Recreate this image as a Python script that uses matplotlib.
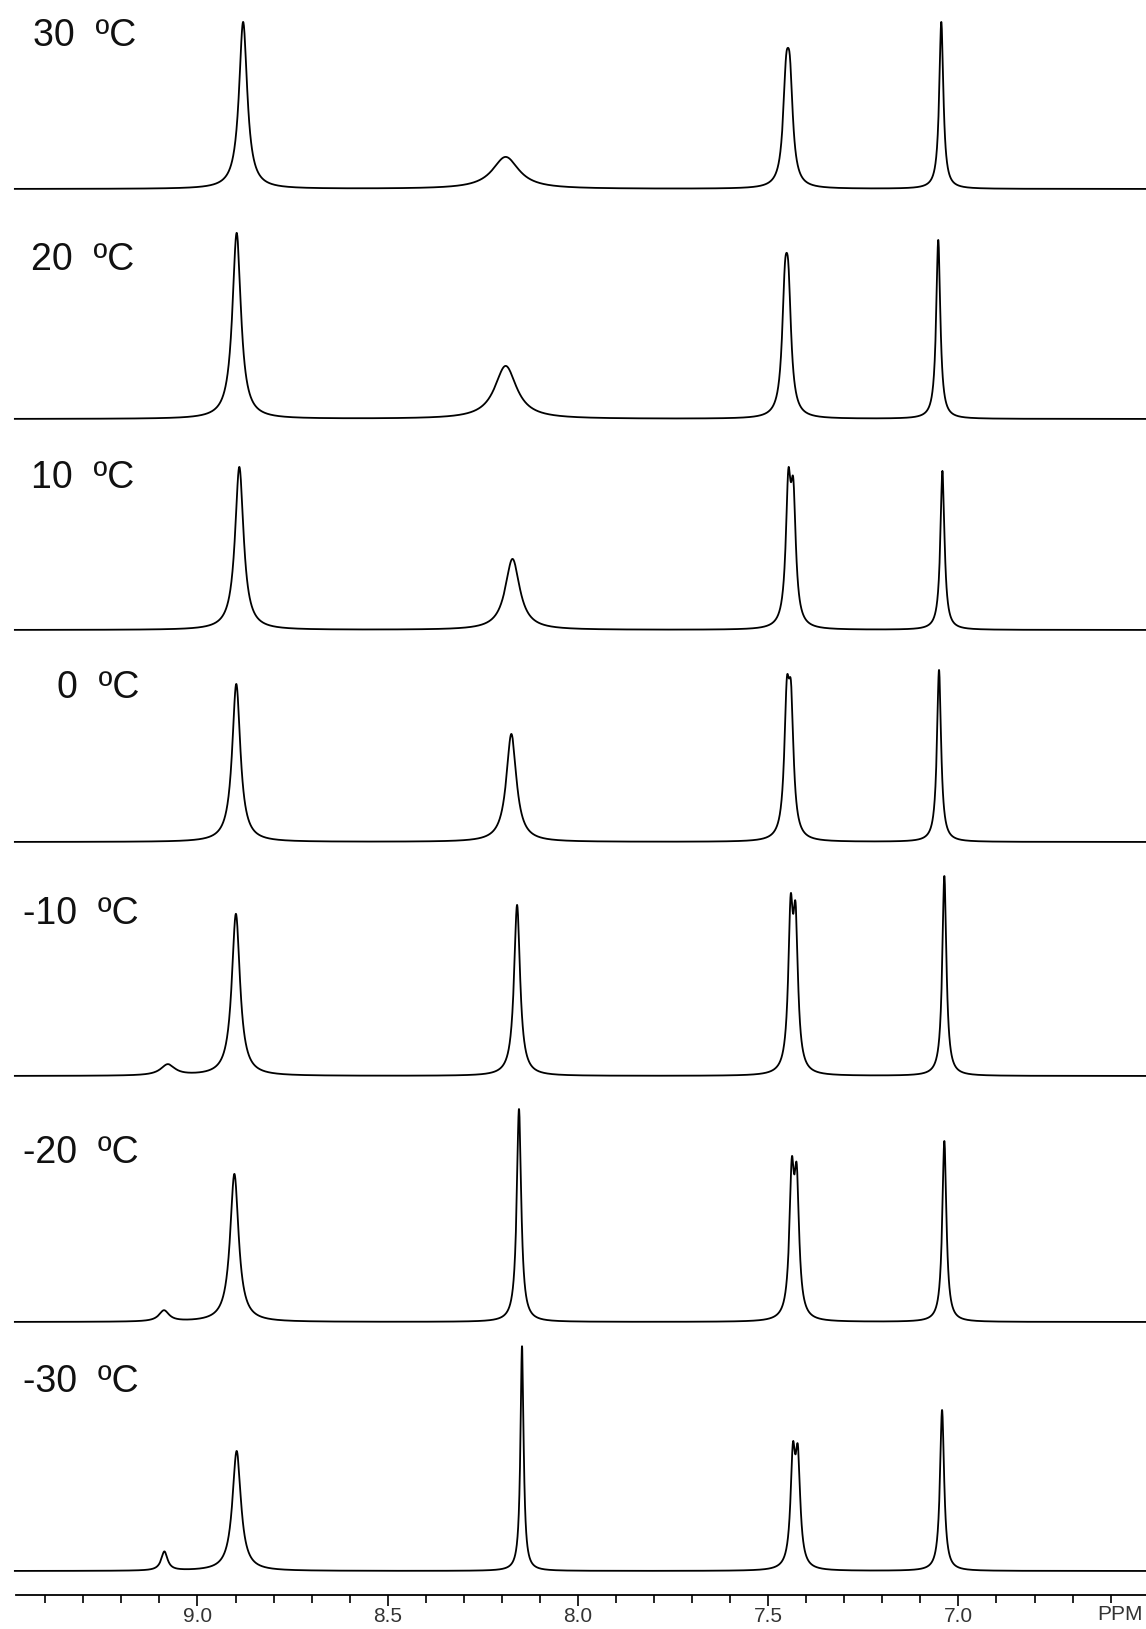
import numpy as np
import matplotlib
matplotlib.use("Agg")
import matplotlib.pyplot as plt
from matplotlib.ticker import MultipleLocator

plt.rcParams['font.family'] = ['Liberation Sans', 'DejaVu Sans']

# ---------------- data ----------------
temp_labels = ["30  \u00baC", "20  \u00baC", "10  \u00baC", "0  \u00baC",
               "-10  \u00baC", "-20  \u00baC", "-30  \u00baC"]

# small signal near 9.08 ppm (only at low T)
minor_shift = [9.08, 9.08, 9.08, 9.08, 9.078, 9.088, 9.087]
minor_height = [0, 0, 0, 0, 11, 11, 19]
minor_fwhm = [0.05, 0.05, 0.05, 0.05, 0.045, 0.032, 0.02]

# signal near 8.9 ppm
b_shift = [8.880, 8.897, 8.890, 8.898, 8.899, 8.903, 8.897]
b_height = [167, 186, 163, 158, 162, 148, 120]
b_fwhm = [0.026, 0.027, 0.027, 0.026, 0.026, 0.027, 0.027]

# exchange-broadened signal near 8.15-8.19 ppm
c_shift = [8.190, 8.190, 8.172, 8.175, 8.160, 8.155, 8.147]
c_height = [32, 53, 71, 108, 171, 213, 225]
c_fwhm = [0.085, 0.070, 0.046, 0.032, 0.019, 0.014, 0.010]

# doublet near 7.44 ppm (two lines); d_height = observed top of the pair
d1_shift = [7.453, 7.456, 7.447, 7.451, 7.441, 7.438, 7.435]
d2_shift = [7.443, 7.447, 7.434, 7.440, 7.428, 7.425, 7.422]
d_height = [141, 166, 163, 168, 183, 166, 130]
d_ratio = [1.0, 1.0, 0.90, 0.95, 0.93, 0.94, 0.97]
d_fwhm = [0.019, 0.018, 0.016, 0.016, 0.015, 0.015, 0.015]

# sharp signal near 7.04 ppm
e_shift = [7.045, 7.053, 7.042, 7.051, 7.037, 7.037, 7.043]
e_height = [167, 179, 159, 172, 200, 181, 161]
e_fwhm = [0.013, 0.013, 0.013, 0.013, 0.013, 0.013, 0.013]

# ---------------- layout ----------------
W, H = 1146, 1629
axis_y = 1595                       # pixel row of the ppm axis
baselines = [189, 419, 630, 842, 1076, 1322, 1571]
label_x = [33, 31, 31, 57, 23, 23, 23]
label_y = [36, 260, 478, 688, 914, 1153, 1382]

fig = plt.figure(figsize=(W / 100, H / 100), dpi=100)
ax = fig.add_axes([16 / W, (H - axis_y) / H, (W - 16) / W, axis_y / H])
ax.set_xlim(9.477, 6.507)
ax.set_ylim(0, axis_y)

ppm = np.arange(6.50, 9.48, 0.0004)


def lorentz(x, x0, fwhm):
    g = fwhm / 2.0
    return g * g / ((x - x0) ** 2 + g * g)


for i in range(len(temp_labels)):
    y = np.zeros_like(ppm)
    y += minor_height[i] * lorentz(ppm, minor_shift[i], minor_fwhm[i])
    y += b_height[i] * lorentz(ppm, b_shift[i], b_fwhm[i])
    y += c_height[i] * lorentz(ppm, c_shift[i], c_fwhm[i])
    dbl = (lorentz(ppm, d1_shift[i], d_fwhm[i])
           + d_ratio[i] * lorentz(ppm, d2_shift[i], d_fwhm[i]))
    y += d_height[i] * dbl / dbl.max()
    y += e_height[i] * lorentz(ppm, e_shift[i], e_fwhm[i])
    off = axis_y - baselines[i]
    ax.plot(ppm, y + off, color='black', lw=1.3, clip_on=False)
    fig.text(label_x[i] / W, 1 - label_y[i] / H, temp_labels[i],
             fontsize=27, ha='left', va='center', color='#111111')

for s in ['top', 'left', 'right']:
    ax.spines[s].set_visible(False)
ax.spines['bottom'].set_linewidth(1.3)
ax.set_yticks([])
ax.xaxis.set_major_locator(MultipleLocator(0.5))
ax.xaxis.set_minor_locator(MultipleLocator(0.1))
ax.xaxis.set_major_formatter(plt.FormatStrFormatter('%.1f'))
ax.tick_params(axis='x', which='major', direction='out', length=8, width=1.2,
               labelsize=15, pad=1, labelcolor='#333333')
ax.tick_params(axis='x', which='minor', direction='out', length=6, width=1.2)

fig.text(1120 / W, 1 - 1614 / H, 'PPM', fontsize=15, ha='center', va='center',
         color='#333333')

fig.savefig('out.png', dpi=100, facecolor='white')
